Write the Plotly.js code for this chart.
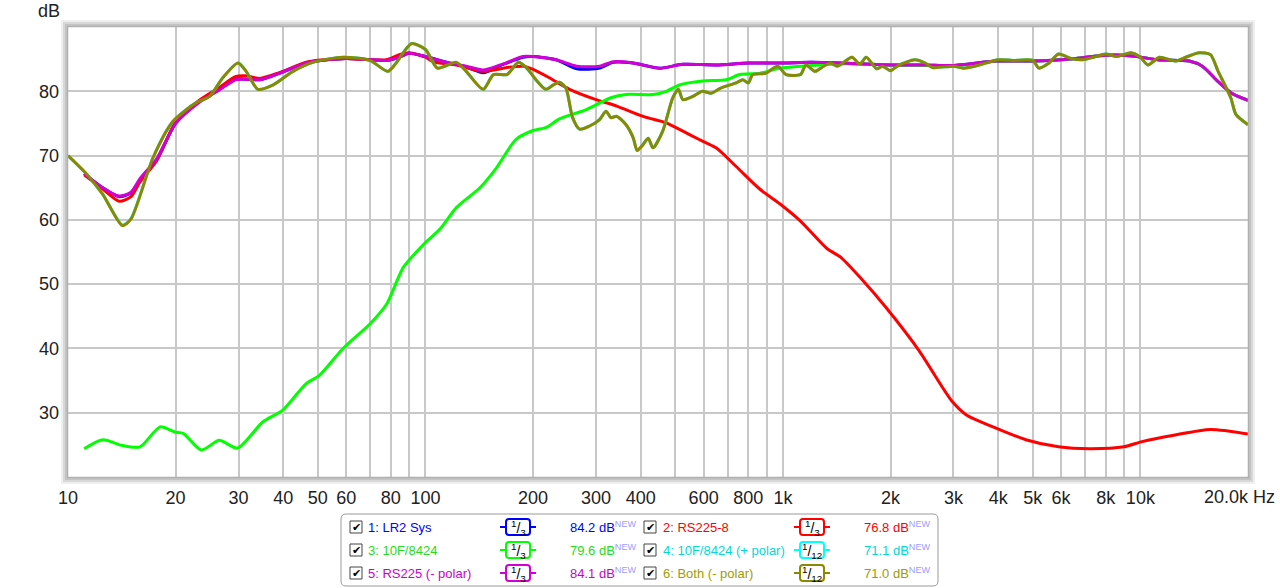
<!DOCTYPE html>
<html><head><meta charset="utf-8">
<script src="https://cdn.plot.ly/plotly-3.0.1.min.js"></script>
<style>html,body{margin:0;padding:0;background:#fff;}#chart{width:1280px;height:588px;}</style>
</head><body><div id="chart"></div>
<script>
// ---------- DATA ----------
const freqSys = [11.1,12.5,13.9,15,15.9,17.7,20,23.3,26.5,29.5,34.4,39,47,59.9,70,77.6,84.5,90,100,116.6,130,145,162,187.5,200,232,265,307,335,381,452,525,650,802,1000,1200,1440,2000,2500,3000,3950,5000,6600,8000,9500,11200,13700,14900,16500,18000,20000];
const dbSys   = [67.2,65.0,63.6,64.2,66.2,69.3,75.0,78.4,80.3,81.9,81.8,82.8,84.5,85.1,84.9,84.8,85.3,85.9,85.4,84.4,83.8,82.9,84.0,85.3,85.4,84.9,83.5,83.6,84.5,84.4,83.6,84.2,84.1,84.4,84.4,84.5,84.4,84.1,84.1,84.0,84.7,84.7,85.1,85.6,85.5,84.9,84.7,83.9,81.5,79.7,78.6];

const freqWoofer = [11.1,12.5,13.9,15,15.9,17.7,20,23.3,26.5,29.5,31.5,34.4,39,47,59.9,70,77.6,84.5,90,100,105,122,145,169,187.5,200,222,253,300,343,406,471,525,583,650,740,861,980,1120,1330,1450,1640,1940,2400,2960,3270,3870,4780,5900,7200,9000,10100,12400,15700,20000];
const dbWoofer   = [67.0,64.8,62.9,63.6,65.9,69.2,75.2,78.6,80.6,82.3,82.4,82.0,82.9,84.6,85.1,84.9,84.9,85.7,86.0,85.3,84.6,84.1,83.1,83.7,83.9,83.4,82.1,80.3,78.7,77.7,76.1,75.1,73.8,72.5,71.2,68.3,64.8,62.5,59.8,55.5,54.2,51.1,46.4,39.7,31.9,29.6,27.8,25.8,24.7,24.4,24.7,25.5,26.5,27.4,26.7];

const freqTweeter = [11.1,12.5,14.2,15.9,18.1,19.9,21,23.6,26.5,29.8,35.1,39.9,46.3,50.5,58.8,69.9,77.9,86.7,98.9,110,122,142,158,179,200,218,237,283,330,364,433,472,514,595,694,758,863,982,1120,1360,1500,2000,3000,4000,5000,6600,8000,9500,11200,13700,14900,16500,18000,20000];
const dbTweeter   = [24.4,25.8,24.9,24.7,27.8,27.0,26.8,24.2,25.7,24.5,28.6,30.4,34.5,35.8,40.0,43.8,46.9,52.6,56.2,58.6,61.9,65.0,68.1,72.5,73.9,74.4,75.7,77.2,79.0,79.5,79.5,80.0,81.0,81.6,81.8,82.6,82.8,83.6,83.9,84.2,84.3,84.1,84.0,84.7,84.7,85.1,85.6,85.5,84.9,84.7,83.9,81.5,79.7,78.6];

const freqFine = [10,11.2,12.5,14.2,15,17.3,19.65,22.8,24.9,27.1,29.9,31.5,34,37.5,42.6,48.4,58.8,69.9,78.5,82.8,91.3,100,108,122,130,145,155,169,182,192,205,217,228,237,247,258,270,288,307,320,330,343,364,381,391,406,420,433,461,492,510,525,560,595,630,670,740,772,800,823,894,967,1020,1120,1160,1230,1300,1360,1420,1560,1640,1710,1830,1900,2000,2100,2340,2500,2620,3000,3200,3600,4000,4400,5000,5200,5550,5900,6400,6900,7400,8000,8600,9400,10000,10500,11300,12500,13400,14600,15700,16500,17900,18500,20000];
const dbTweeterPlus = [70.0,67.3,64.0,59.2,60.2,69.7,75.3,78.2,79.2,82.1,84.4,83.1,80.3,81.0,83.1,84.5,85.3,84.8,83.1,84.4,87.4,86.5,83.6,84.5,83.1,80.3,82.6,82.6,84.5,83.6,81.6,80.3,81.0,81.4,80.5,75.9,74.1,74.6,75.6,76.9,75.9,76.1,74.8,72.8,70.8,71.7,72.7,71.2,73.8,79.0,80.3,78.7,79.2,80.0,79.7,80.5,81.3,81.8,81.3,82.6,82.8,83.9,82.6,82.6,84.1,83.1,83.9,84.4,83.9,85.3,84.2,85.3,83.5,83.9,83.2,84.0,84.9,84.4,83.7,83.9,83.6,84.2,84.9,84.8,84.8,83.6,84.4,85.8,85.1,84.9,85.3,85.8,85.4,86.0,85.3,84.1,85.3,84.7,85.3,86.0,85.7,83.1,79.0,76.4,74.8];
const dbBothMinus   = [70.0,67.3,64.0,59.1,60.1,69.7,75.3,78.2,79.2,82.1,84.4,83.1,80.3,81.0,83.1,84.5,85.3,84.8,83.1,84.4,87.4,86.5,83.6,84.5,83.1,80.3,82.6,82.6,84.5,83.6,81.6,80.3,81.0,81.4,80.5,75.9,74.1,74.6,75.6,76.9,75.9,76.1,74.8,72.8,70.8,71.7,72.7,71.2,73.8,79.0,80.3,78.7,79.2,80.0,79.7,80.5,81.3,81.8,81.3,82.6,82.8,83.9,82.6,82.6,84.1,83.1,83.9,84.4,83.9,85.3,84.2,85.3,83.5,83.9,83.2,84.0,84.9,84.4,83.7,83.9,83.6,84.2,84.9,84.8,84.8,83.6,84.4,85.8,85.1,84.9,85.3,85.8,85.4,86.0,85.3,84.1,85.3,84.7,85.3,86.0,85.7,83.1,79.0,76.4,74.8];

const freqWooferMinus = [11.1,12.5,13.9,15,15.9,17.7,20,23.3,26.5,29.5,34.4,39,47,59.9,70,77.6,84.5,90,100,116.6,130,145,162,187.5,200,232,265,307,335,381,452,525,650,802,1000,1200,1440,2000,2500,3000,3950,5000,6600,8000,9500,11200,13700,14900,16500,18000,20000];
const dbWooferMinus   = [67.2,65.0,63.7,64.3,66.4,69.5,75.0,78.3,80.2,81.8,81.8,82.8,84.5,85.1,84.9,84.8,85.3,85.9,85.4,84.4,83.9,83.3,84.1,85.4,85.4,84.9,83.9,83.9,84.6,84.4,83.6,84.2,84.1,84.4,84.4,84.5,84.4,84.1,84.1,84.0,84.7,84.7,85.1,85.6,85.5,84.9,84.7,83.9,81.5,79.7,78.6];

const seriesNames  = ["1: LR2 Sys","2: RS225-8","3: 10F/8424","4: 10F/8424 (+ polar)","5: RS225 (- polar)","6: Both (- polar)"];
const seriesColors = ["#0000ff","#ff0000","#00ff00","#00ffff","#d200d2","#8a8a00"];
const legendTextColors = ["#0000ff","#ff0000","#22dd22","#00d8d8","#cc00cc","#a09c00"];
const smoothingLabels = ["<sup>1</sup>/<sub>3</sub>","<sup>1</sup>/<sub>3</sub>","<sup>1</sup>/<sub>3</sub>","<sup>1</sup>/<sub>12</sub>","<sup>1</sup>/<sub>3</sub>","<sup>1</sup>/<sub>12</sub>"];
const levelLabels = ["84.2 dB","76.8 dB","79.6 dB","71.1 dB","84.1 dB","71.0 dB"];

const xTickVals = [10,20,30,40,50,60,70,80,90,100,200,300,400,500,600,700,800,900,1000,2000,3000,4000,5000,6000,7000,8000,9000,10000,20000];
const xTickText = ["10","20","30","40","50","60","","80","","100","200","300","400","","600","","800","","1k","2k","3k","4k","5k","6k","","8k","","10k",""];
const yTickVals = [20,30,40,50,60,70,80,90];
const yTickText = ["","30","40","50","60","70","80",""];

// ---------- TRACES ----------
const xs = [freqSys,freqWoofer,freqTweeter,freqFine,freqWooferMinus,freqFine];
const ys = [dbSys,dbWoofer,dbTweeter,dbTweeterPlus,dbWooferMinus,dbBothMinus];
const traces = xs.map((x,i)=>({
  x:x, y:ys[i], type:'scatter', mode:'lines', name:seriesNames[i],
  line:{color:seriesColors[i], width:3, shape:'spline', smoothing:0.7},
  hoverinfo:'skip'
}));

// ---------- LAYOUT HELPERS (pixel -> paper) ----------
const L=68, R=1248, T=27, B=477;
const PX = p => (p-L)/(R-L);
const PY = p => (B-p)/(B-T);
const shapes=[], annotations=[];
const FONT = "Liberation Sans, Arial, sans-serif";

function rrPath(x0,y0,x1,y1,r){
  const P=(x,y)=>PX(x)+','+PY(y);
  return 'M'+P(x0+r,y0)+' L'+P(x1-r,y0)+' Q'+P(x1,y0)+' '+P(x1,y0+r)+
         ' L'+P(x1,y1-r)+' Q'+P(x1,y1)+' '+P(x1-r,y1)+
         ' L'+P(x0+r,y1)+' Q'+P(x0,y1)+' '+P(x0,y1-r)+
         ' L'+P(x0,y0+r)+' Q'+P(x0,y0)+' '+P(x0+r,y0)+' Z';
}

// frame with shadow
[[6,'#efefef',2],[4,'#d8d8d8',2],[2,'#c4c4c4',2],[0.5,'#b0b0b0',1.5]].forEach(([o,c,w])=>{
  shapes.push({type:'rect',xref:'paper',yref:'paper',x0:PX(L-o),x1:PX(R+o),y0:PY(B+o),y1:PY(T-o),line:{color:c,width:w},layer:'above'});
});

// legend box
shapes.push({type:'path',xref:'paper',yref:'paper',path:rrPath(341,514,938,586,5),line:{color:'#9a9a9a',width:1},fillcolor:'#ffffff'});

const rowY=[527,550,573];
const colChk=[356,650], colLabel=[366,661], colIcon=[518,812], colVal=[568,862];
seriesNames.forEach((nm,i)=>{
  const r=Math.floor(i/2), c=i%2, y=rowY[r];
  // checkbox
  shapes.push({type:'rect',xref:'paper',yref:'paper',x0:PX(colChk[c]-6),x1:PX(colChk[c]+6),y0:PY(y+6),y1:PY(y-6),line:{color:'#444',width:1},fillcolor:'#fff'});
  annotations.push({xref:'paper',yref:'paper',x:PX(colChk[c]),y:PY(y),text:'✔',showarrow:false,xanchor:'center',yanchor:'middle',font:{family:'DejaVu Sans',size:11,color:'#000'}});
  // label
  annotations.push({xref:'paper',yref:'paper',x:PX(colLabel[c]),y:PY(y),text:nm,showarrow:false,xanchor:'left',yanchor:'middle',font:{family:FONT,size:13,color:legendTextColors[i]}});
  // smoothing icon
  const ic=colIcon[c];
  shapes.push({type:'line',xref:'paper',yref:'paper',x0:PX(ic-18),x1:PX(ic+18),y0:PY(y),y1:PY(y),line:{color:seriesColors[i],width:2}});
  shapes.push({type:'path',xref:'paper',yref:'paper',path:rrPath(ic-12,y-8,ic+12,y+8,3),line:{color:seriesColors[i],width:2},fillcolor:'#ffffff'});
  annotations.push({xref:'paper',yref:'paper',x:PX(ic),y:PY(y+1),text:smoothingLabels[i],showarrow:false,xanchor:'center',yanchor:'middle',font:{family:FONT,size:14,color:'#000'}});
  // level
  annotations.push({xref:'paper',yref:'paper',x:PX(colVal[c]),y:PY(y),text:levelLabels[i]+'<sup><span style="color:#9c9cff">NEW</span></sup>',showarrow:false,xanchor:'left',yanchor:'middle',font:{family:FONT,size:13,color:legendTextColors[i]}});
});

// axis unit labels
annotations.push({xref:'paper',yref:'paper',x:PX(62),y:PY(11),text:'dB',showarrow:false,xanchor:'right',yanchor:'middle',font:{family:FONT,size:18,color:'#222'}});
annotations.push({xref:'paper',yref:'paper',x:PX(1277),y:PY(497),text:'20.0k Hz',showarrow:false,xanchor:'right',yanchor:'middle',font:{family:FONT,size:18,color:'#222'}});

const layout = {
  width:1280, height:588,
  margin:{l:L, r:1280-R, t:T, b:588-B},
  paper_bgcolor:'#ffffff', plot_bgcolor:'#ffffff',
  showlegend:false,
  xaxis:{type:'log', range:[1, Math.log10(20000)], tickvals:xTickVals, ticktext:xTickText,
    showgrid:true, gridcolor:'#c8c8c8', gridwidth:2, zeroline:false, showline:false, ticks:'',
    ticklabelstandoff:8, tickfont:{family:FONT,size:18,color:'#222'}, fixedrange:true},
  yaxis:{range:[20,90], tickvals:yTickVals, ticktext:yTickText,
    showgrid:true, gridcolor:'#c8c8c8', gridwidth:2, zeroline:false, showline:false, ticks:'',
    ticklabelstandoff:8, tickfont:{family:FONT,size:18,color:'#222'}, fixedrange:true},
  shapes:shapes, annotations:annotations
};
Plotly.newPlot('chart', traces, layout, {displayModeBar:false, staticPlot:true});
</script>
</body></html>
